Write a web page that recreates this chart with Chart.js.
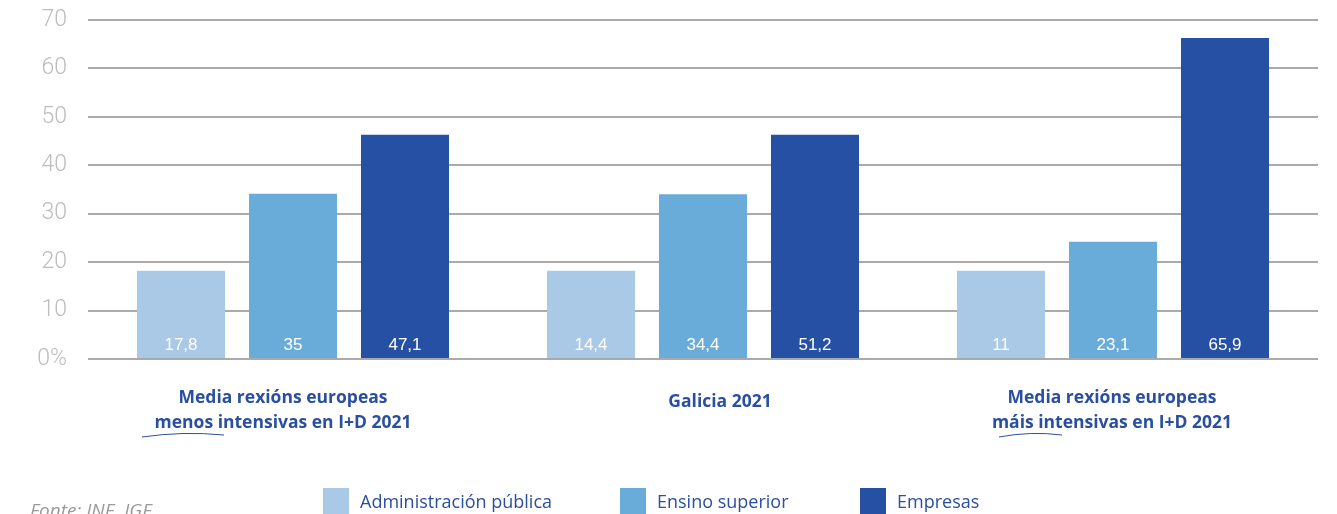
<!DOCTYPE html>
<html lang="gl">
<head>
    <meta charset="UTF-8">
    <title>Gasto en I+D por sector</title>
    <style>
        body { margin: 0; background: #fff; overflow: hidden; }
        .wrap { position: relative; width: 1337px; height: 514px; }
        .legend-item { position: absolute; top: 488px; display: flex; align-items: center;
            font-family: "Open Sans", "Noto Sans", sans-serif; font-size: 18px; color: #2a4fa0; }
        .legend-item span.box { width: 26px; height: 26px; margin-right: 11px; display: inline-block; }
        .fonte { position: absolute; left: 30px; top: 497px; font-family: "Open Sans", sans-serif;
            font-style: italic; font-size: 19px; color: #9a9a9a; }
    </style>
</head>
<body>
<div class="wrap">
    <canvas id="chart" width="1337" height="514"></canvas>
    <div class="fonte">Fonte: INE, IGE</div>
    <div class="legend-item" style="left:323px"><span class="box" style="background:#a9c9e6"></span>Administración pública</div>
    <div class="legend-item" style="left:620px"><span class="box" style="background:#69acd9"></span>Ensino superior</div>
    <div class="legend-item" style="left:860px"><span class="box" style="background:#2550a3"></span>Empresas</div>
</div>

<script src="https://cdn.jsdelivr.net/npm/chart.js"></script>
<script>
    // categorías (dúas liñas)
    const categories = [
        ['Media rexións europeas', 'menos intensivas en I+D 2021'],
        ['Galicia 2021'],
        ['Media rexións europeas', 'máis intensivas en I+D 2021']
    ];
    const seriesNames = ['Administración pública', 'Ensino superior', 'Empresas'];
    const seriesColors = ['#a9c9e6', '#69acd9', '#2550a3'];

    // altura das barras tal como aparecen no gráfico
    const adminBars = [18.2, 18.2, 18.2];
    const ensinoBars = [34.1, 34.0, 24.2];
    const empresasBars = [46.3, 46.3, 66.3];

    // etiquetas escritas dentro das barras
    const adminLabels = ['17,8', '14,4', '11'];
    const ensinoLabels = ['35', '34,4', '23,1'];
    const empresasLabels = ['47,1', '51,2', '65,9'];

    const yTicks = [0, 10, 20, 30, 40, 50, 60, 70];

    const barLabels = [adminLabels, ensinoLabels, empresasLabels];

    // etiquetas brancas no fondo de cada barra
    const valueLabelPlugin = {
        id: 'valueLabels',
        afterDatasetsDraw(chart) {
            const ctx = chart.ctx;
            ctx.save();
            ctx.fillStyle = '#ffffff';
            ctx.font = '17px "Liberation Sans", Arial, sans-serif';
            ctx.textAlign = 'center';
            ctx.textBaseline = 'alphabetic';
            chart.data.datasets.forEach((ds, i) => {
                chart.getDatasetMeta(i).data.forEach((bar, j) => {
                    ctx.fillText(barLabels[i][j], bar.x, bar.base - 8);
                });
            });
            ctx.restore();
        }
    };

    // etiquetas das categorías (no orixinal non están centradas de todo)
    const catShift = [-10, 17, -1];
    const categoryLabelPlugin = {
        id: 'catLabels',
        afterDraw(chart) {
            const ctx = chart.ctx;
            const x = chart.scales.x;
            ctx.save();
            ctx.fillStyle = '#2a4fa0';
            ctx.font = 'bold 17.5px "Open Sans", "Noto Sans", sans-serif';
            ctx.textAlign = 'center';
            ctx.textBaseline = 'middle';
            chart.data.labels.forEach((lines, i) => {
                const c = x.getPixelForValue(i) + catShift[i];
                const y0 = lines.length > 1 ? 398 : 402;
                lines.forEach((t, k) => ctx.fillText(t, c, y0 + k * 25));
            });
            // pequeno trazo decorativo baixo a segunda liña
            ctx.strokeStyle = '#2a4fa0';
            ctx.lineWidth = 1;
            [[0, -151, -69], [2, -114, -51]].forEach(([idx, a, b]) => {
                const c = x.getPixelForValue(idx);
                ctx.beginPath();
                ctx.moveTo(c + a, 437);
                ctx.quadraticCurveTo(c + (a + b) / 2, 431, c + b, 435);
                ctx.stroke();
            });
            ctx.restore();
        }
    };

    const ctx = document.getElementById('chart').getContext('2d');
    new Chart(ctx, {
        type: 'bar',
        data: {
            labels: categories,
            datasets: [
                { label: seriesNames[0], data: adminBars, backgroundColor: seriesColors[0] },
                { label: seriesNames[1], data: ensinoBars, backgroundColor: seriesColors[1] },
                { label: seriesNames[2], data: empresasBars, backgroundColor: seriesColors[2] }
            ]
        },
        options: {
            responsive: false,
            animation: false,
            layout: { padding: { top: 20, right: 19, left: 0, bottom: 0 } },
            datasets: {
                bar: { categoryPercentage: 0.8195, barPercentage: 0.786 }
            },
            plugins: {
                legend: { display: false },
                tooltip: { enabled: false }
            },
            scales: {
                x: {
                    grid: { display: false },
                    border: { display: false },
                    ticks: { display: false },
                    afterFit(scale) { scale.height = 155; }
                },
                y: {
                    min: 0,
                    max: 70,
                    afterBuildTicks(scale) { scale.ticks = yTicks.map(v => ({ value: v })); },
                    grid: { color: '#aaaaaa', lineWidth: 2, drawTicks: false },
                    border: { display: false },
                    ticks: {
                        color: '#bdbdbd',
                        padding: 21,
                        font: { family: 'Roboto, "Liberation Sans", sans-serif', size: 23, weight: 300 },
                        callback: v => v === 0 ? '0%' : v
                    },
                    afterFit(scale) {
                        scale.width = 88;
                        scale.paddingTop = 0;
                        scale.paddingBottom = 0;
                    }
                }
            }
        },
        plugins: [valueLabelPlugin, categoryLabelPlugin]
    });
</script>
</body>
</html>
